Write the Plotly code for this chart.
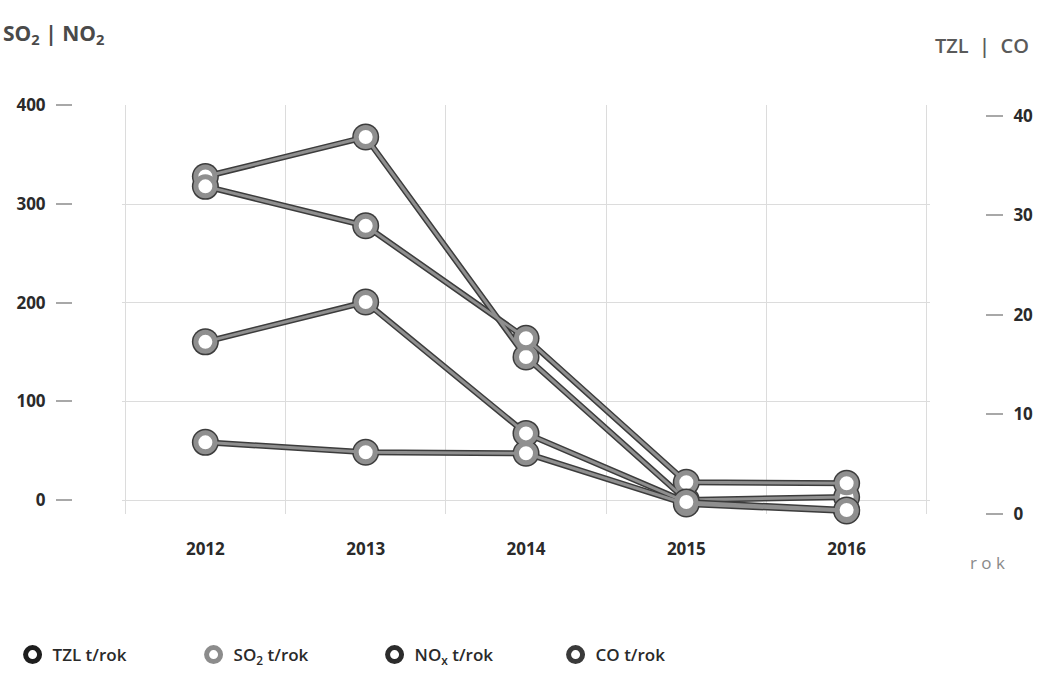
import plotly.graph_objects as go

years = ["2012", "2013", "2014", "2015", "2016"]
so2 = [328, 368, 145, 0, 3]        # t/rok, left axis
nox = [318, 278, 164, 18, 17]      # t/rok, left axis
co = [17.3, 21.3, 8.1, 1.2, 0.4]   # t/rok, right axis
tzl = [7.2, 6.2, 6.1, 1.0, 0.3]    # t/rok, right axis

left_ticks = [0, 100, 200, 300, 400]
right_ticks = [0, 10, 20, 30, 40]

series = [
    ("TZL", tzl, "y2"),
    ("SO2", so2, "y"),
    ("NOx", nox, "y"),
    ("CO", co, "y2"),
]

fig = go.Figure()
FONT = "Open Sans"

# under layer (dark tube edges)
for name, vals, ax in series:
    fig.add_trace(go.Scatter(
        x=years, y=vals, yaxis=ax, mode="lines+markers", showlegend=False,
        hoverinfo="skip", cliponaxis=False,
        line=dict(color="#3c3c3c", width=6),
        marker=dict(symbol="circle", size=27, color="#3c3c3c", line=dict(width=0)),
    ))
# top layer (gray tube core, white-centred rings)
for name, vals, ax in series:
    fig.add_trace(go.Scatter(
        x=years, y=vals, yaxis=ax, mode="lines+markers", showlegend=False,
        name=name, cliponaxis=False,
        line=dict(color="#8f8f8f", width=3),
        marker=dict(symbol="circle", size=19, color="white",
                    line=dict(color="#8f8f8f", width=5)),
    ))

legend_items = [
    ("TZL t/rok", "#1e1e1e"),
    ("SO<sub>2</sub> t/rok", "#8c8c8c"),
    ("NO<sub>x</sub> t/rok", "#2c2c2c"),
    ("CO t/rok", "#3a3a3a"),
]
for label, col in legend_items:
    fig.add_trace(go.Scatter(
        x=[None], y=[None], mode="markers", name=label,
        marker=dict(symbol="circle", size=14, color="white",
                    line=dict(color=col, width=7)),
    ))

fig.update_layout(
    width=1048, height=676,
    margin=dict(l=122, r=118, t=105, b=162),
    paper_bgcolor="white", plot_bgcolor="white",
    font=dict(family=FONT, color="#2a2a2a"),
    showlegend=True,
    legend=dict(
        orientation="h", xref="container", yref="container",
        x=0.012, xanchor="left", y=0.031, yanchor="middle",
        entrywidth=136, entrywidthmode="pixels", itemsizing="trace",
        font=dict(family=FONT, size=17, color="#2a2a2a", weight=600),
        bgcolor="rgba(0,0,0,0)",
    ),
    xaxis=dict(
        type="category", range=[-0.52, 4.52], tickson="boundaries",
        showgrid=True, gridcolor="#dcdcdc", gridwidth=1,
        showline=False, zeroline=False, ticks="", ticklabelstandoff=23,
        automargin=False,
        tickfont=dict(family=FONT, size=17, color="#2a2a2a", weight=700),
    ),
    yaxis=dict(
        range=[-14.2, 400.5], tickvals=left_ticks, ticktext=[str(v) for v in left_ticks],
        anchor="free", position=0, shift=-50, side="left",
        showgrid=True, gridcolor="#dcdcdc", gridwidth=1, zeroline=False,
        showline=False, ticks="outside", ticklen=16, tickwidth=2, tickcolor="#a8a8a8",
        ticklabelstandoff=7, automargin=False,
        tickfont=dict(family=FONT, size=17, color="#2a2a2a", weight=700),
    ),
    yaxis2=dict(
        range=[0, 41.1], tickvals=right_ticks, ticktext=[str(v) for v in right_ticks],
        overlaying="y", anchor="free", position=1, shift=55, side="right",
        showgrid=False, zeroline=False, showline=False,
        ticks="outside", ticklen=17, tickwidth=2, tickcolor="#a8a8a8",
        ticklabelstandoff=7, automargin=False,
        tickfont=dict(family=FONT, size=17, color="#2a2a2a", weight=700),
    ),
    annotations=[
        dict(text="SO<sub>2</sub> | NO<sub>2</sub>", xref="paper", yref="paper",
             x=-0.15, y=1.0, xanchor="left", yanchor="middle", yshift=71, showarrow=False,
             font=dict(family=FONT, size=21, color="#4a4a4a", weight=700)),
        dict(text="TZL  |  CO", xref="paper", yref="paper",
             x=1.0, y=1.0, xanchor="left", yanchor="middle", xshift=3, yshift=60,
             showarrow=False, font=dict(family=FONT, size=20, color="#5a5a5a", weight=600)),
        dict(text="r o k", xref="paper", yref="paper",
             x=1.0, y=0.0, xanchor="left", yanchor="middle", xshift=38, yshift=-48,
             showarrow=False, font=dict(family=FONT, size=17, color="#8a8a8a")),
    ],
)

fig.write_html("out.html")
